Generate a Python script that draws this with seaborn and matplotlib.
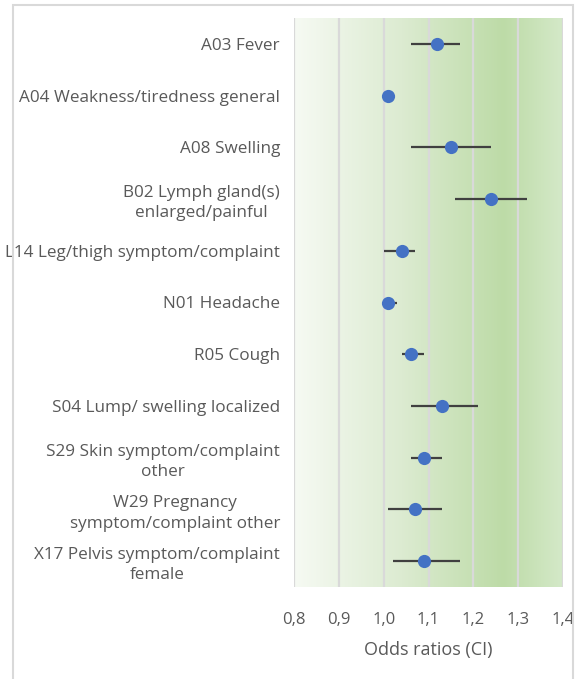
import numpy as np
import pandas as pd
import matplotlib
matplotlib.use("Agg")
import matplotlib.pyplot as plt
from matplotlib.colors import LinearSegmentedColormap
from matplotlib.patches import Rectangle
import seaborn as sns

# Symptoms (ICPC-2 codes) with odds ratios and 95% confidence limits
symptoms = [
    "A03 Fever",
    "A04 Weakness/tiredness general",
    "A08 Swelling",
    "B02 Lymph gland(s)\nenlarged/painful",
    "L14 Leg/thigh symptom/complaint",
    "N01 Headache",
    "R05 Cough",
    "S04 Lump/ swelling localized",
    "S29 Skin symptom/complaint\nother",
    "W29 Pregnancy\nsymptom/complaint other",
    "X17 Pelvis symptom/complaint\nfemale",
]
odds_ratio = [1.12, 1.01, 1.15, 1.24, 1.04, 1.01, 1.06, 1.13, 1.09, 1.07, 1.09]
ci_lower   = [1.06, 1.00, 1.06, 1.16, 1.00, 1.00, 1.04, 1.06, 1.06, 1.01, 1.02]
ci_upper   = [1.17, 1.02, 1.24, 1.32, 1.07, 1.03, 1.09, 1.21, 1.13, 1.13, 1.17]
x_ticks = [0.8, 0.9, 1.0, 1.1, 1.2, 1.3, 1.4]
x_tick_labels = ["0,8", "0,9", "1,0", "1,1", "1,2", "1,3", "1,4"]

df = pd.DataFrame({"symptom": symptoms, "or": odds_ratio,
                   "lo": ci_lower, "hi": ci_upper})

sns.set_theme(style="white")
plt.rcParams["font.family"] = ["Open Sans", "DejaVu Sans"]

W, H = 580, 679
fig = plt.figure(figsize=(W / 100, H / 100), dpi=100)
ax = fig.add_axes([294 / W, 1 - 587 / H, (563 - 294) / W, (587 - 18) / H])

n = len(symptoms)
text_col = "#595959"
grid_col = "#d9d9d9"

# green gradient backdrop
green = LinearSegmentedColormap.from_list(
    "bg", [(0.0, "#f6faf3"), (0.4, "#dcebd1"), (0.78, "#bddba7"), (1.0, "#d4e9c8")])
grad = np.linspace(0, 1, 400).reshape(1, -1)
ax.imshow(grad, cmap=green, aspect="auto", extent=[0.8, 1.4, n - 0.5, -0.5],
          zorder=0, interpolation="bilinear")

for t in x_ticks:
    ax.axvline(t, color=grid_col, lw=1.6, zorder=1)

# confidence intervals
ax.hlines(np.arange(n), df["lo"], df["hi"], color="#404040", lw=1.6, zorder=2)

# point estimates
sns.pointplot(data=df, x="or", y="symptom", order=symptoms, orient="h",
              color="#4472C4", linestyle="none", errorbar=None,
              markersize=9.5, markeredgewidth=0, ax=ax, zorder=3)

ax.set_xlim(0.8, 1.4)
ax.set_ylim(n - 0.5, -0.5)
ax.set_xticks(x_ticks)
ax.set_xticklabels(x_tick_labels)
ax.tick_params(axis="x", length=0, pad=18, labelsize=12, labelcolor=text_col)
ax.tick_params(axis="y", length=0, pad=10, labelsize=12.3, labelcolor=text_col)
for lab in ax.get_yticklabels():
    lab.set_multialignment("center")
    lab.set_linespacing(1.35)
ax.set_ylabel("")
ax.set_xlabel("Odds ratios (CI)", fontsize=13, color=text_col, labelpad=9)
for s in ax.spines.values():
    s.set_visible(False)

# chart frame
fig.add_artist(Rectangle((13 / W, -0.05), (573 - 13) / W, 1.05 - 5 / H,
                         transform=fig.transFigure, fill=False,
                         edgecolor=grid_col, lw=1.5, zorder=10))

fig.savefig("out.png", dpi=100)
